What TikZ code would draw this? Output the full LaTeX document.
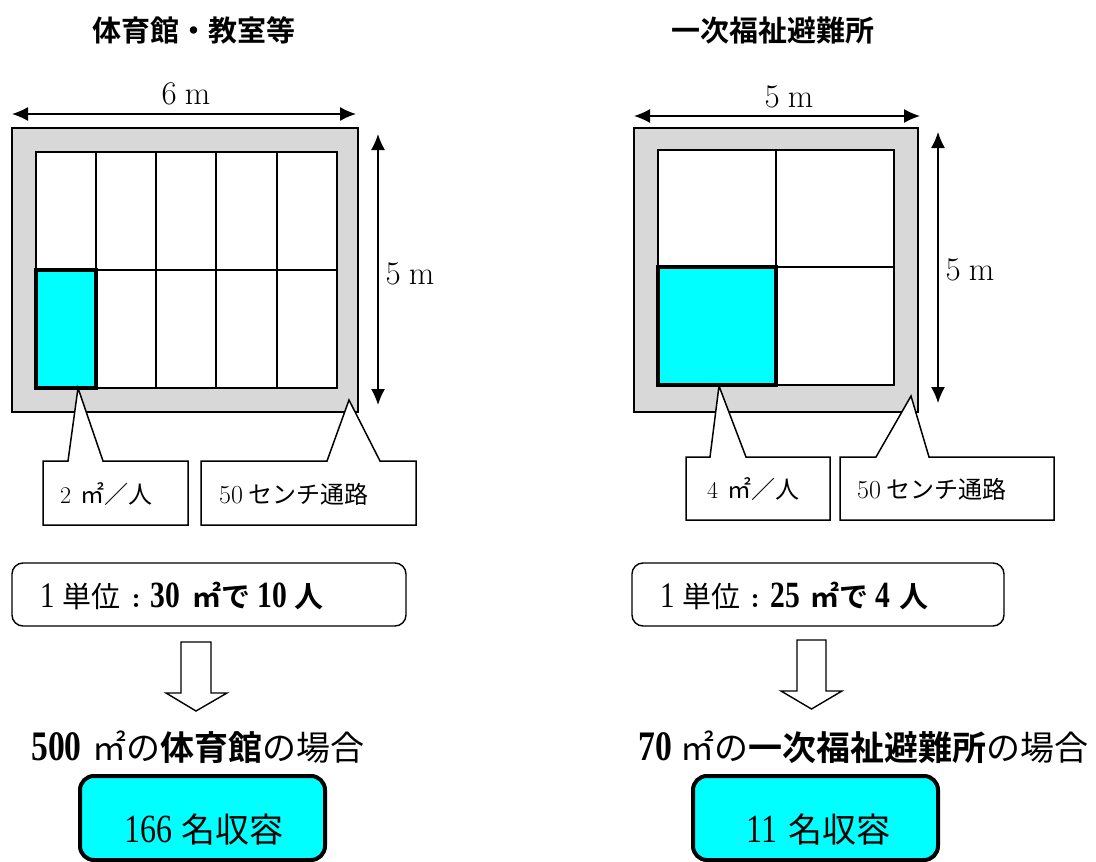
\documentclass[tikz,border=0pt]{standalone}
\usepackage{fontspec}
\usetikzlibrary{arrows.meta}
\newfontfamily\jpn{Noto Sans CJK JP}
\newfontfamily\jpb{Noto Sans CJK JP Bold}
\newfontfamily\ltall[FakeStretch=0.8]{Liberation Serif}
\newcommand{\Jr}[1]{{\jpn #1}}
\newcommand{\Jb}[1]{{\jpb #1}}
\newcommand{\fsz}[1]{\fontsize{#1}{#1}\selectfont}
\newcommand{\Bd}[2]{{\fsz{#1}\ltall\bfseries #2}}
\newcommand{\Tl}[2]{{\fsz{#1}\ltall #2}}
\definecolor{wallgray}{RGB}{216,216,216}
\definecolor{cyanfill}{RGB}{0,255,255}
\tikzset{
  x=1pt,y=-1pt,
  wall/.style={draw=black,line width=2pt,fill=wallgray},
  cellgrid/.style={draw=black,line width=1.4pt,fill=white},
  gridline/.style={draw=black,line width=1.4pt},
  hifill/.style={fill=cyanfill},
  hiedge/.style={draw=black,line width=3.4pt},
  dimarrow/.style={draw=black,line width=1.3pt,{Latex[length=16pt,width=14pt]}-{Latex[length=16pt,width=14pt]}},
  callout/.style={draw=black,line width=1.5pt,fill=white,line join=miter},
  unitbox/.style={draw=black,line width=1.4pt,fill=white,rounded corners=11pt},
  resbox/.style={draw=black,line width=4pt,fill=cyanfill,rounded corners=14pt},
  blockarrow/.style={draw=black,line width=1.4pt,fill=white},
  txt/.style={inner sep=0pt,anchor=base west},
  ctxt/.style={inner sep=0pt,anchor=base},
}
\begin{document}
\begin{tikzpicture}
\useasboundingbox (0,0) rectangle (1096,862);
% titles
\node[ctxt] (t1) at (194,41) {\fsz{29}\Jb{体育館・教室等}};
\node[ctxt] (t2) at (773,41) {\fsz{29}\Jb{一次福祉避難所}};
% left plan
\path[wall] (12,128) rectangle (358,412);
\path[cellgrid] (36,152) rectangle (337,388);
\foreach \xx in {96,156,216,277}{\draw[gridline] (\xx,152) -- (\xx,388);}
\draw[gridline] (36,270) -- (337,270);
\path[hifill] (36,270) rectangle (96,388);
\path[hiedge] (36,270) rectangle (96,388);
% right plan
\path[wall] (634,128) rectangle (918,412);
\path[cellgrid] (658,150) rectangle (894,385);
\draw[gridline] (776,150) -- (776,385);
\draw[gridline] (658,267) -- (894,267);
\path[hifill] (658,267) rectangle (776,385);
\path[hiedge] (658,267) rectangle (776,385);
% dimensions
\coordinate (d1a) at (12,114); \coordinate (d1b) at (356,114);
\coordinate (d2a) at (378,134); \coordinate (d2b) at (378,405);
\coordinate (d3a) at (634,116); \coordinate (d3b) at (920,116);
\coordinate (d4a) at (938,132); \coordinate (d4b) at (938,403);
\draw[dimarrow] (d1a) -- (d1b);
\draw[dimarrow] (d2a) -- (d2b);
\draw[dimarrow] (d3a) -- (d3b);
\draw[dimarrow] (d4a) -- (d4b);
\node[ctxt] (l1) at (186,104) {\fsz{33}6\hspace{8pt}m};
\node[ctxt] (l2) at (789,107) {\fsz{33}5\hspace{8pt}m};
\node[ctxt] (l3) at (410,284) {\fsz{33}5\hspace{8pt}m};
\node[ctxt] (l4) at (970,280) {\fsz{33}5\hspace{8pt}m};
% callouts
\path[callout] (43,461) -- (68,461) -- (78,388) -- (103,461) -- (188,461) -- (188,525) -- (43,525) -- cycle;
\path[callout] (201,461) -- (327,461) -- (349,400) -- (380,461) -- (416,461) -- (416,525) -- (201,525) -- cycle;
\path[callout] (686,457) -- (710,457) -- (719,386) -- (746,457) -- (830,457) -- (830,520) -- (686,520) -- cycle;
\path[callout] (840,457) -- (876,457) -- (911,396) -- (929,457) -- (1054,457) -- (1054,520) -- (840,520) -- cycle;
\node[txt] (c1) at (60,503) {\fsz{24}2\hspace{9pt}\Jr{㎡／人}};
\node[txt] (c2) at (219,503) {\fsz{26}50\hspace{5pt}\fsz{24}\Jr{センチ通路}};
\node[txt] (c3) at (707,498) {\fsz{24}4\hspace{9pt}\Jr{㎡／人}};
\node[txt] (c4) at (857,498) {\fsz{26}50\hspace{5pt}\fsz{24}\Jr{センチ通路}};
% unit boxes
\path[unitbox] (12,563) rectangle (406,626);
\path[unitbox] (632,563) rectangle (1004,626);
\node[txt] (u1) at (40,607) {\fsz{29}\Tl{36}{1}\hspace{8pt}\Jr{単位}\hspace{11pt}\textbf{:}\hspace{10pt}\Bd{37}{30}\hspace{12pt}\Jb{㎡で}\hspace{7pt}\Bd{37}{10}\hspace{8pt}\Jb{人}};
\node[txt] (u2) at (660,607) {\fsz{29}\Tl{36}{1}\hspace{8pt}\Jr{単位}\hspace{10pt}\textbf{:}\hspace{11pt}\Bd{37}{25}\hspace{10pt}\Jb{㎡で}\hspace{7pt}\Bd{37}{4}\hspace{9pt}\Jb{人}};
% block arrows
\path[blockarrow] (181,642) -- (211,642) -- (211,693) -- (227,693) -- (196,711) -- (166,693) -- (181,693) -- cycle;
\path[blockarrow] (797,640) -- (826,640) -- (826,691) -- (842,691) -- (811.5,709) -- (781,691) -- (797,691) -- cycle;
% case lines
\node[txt] (k1) at (31,760) {\fsz{34}\Bd{42}{500}\hspace{11pt}\Jr{㎡の}\Jb{体育館}\Jr{の場合}};
\node[txt] (k2) at (638,760) {\fsz{34}\Bd{42}{70}\hspace{9pt}\Jr{㎡の}\Jb{一次福祉避難所}\Jr{の場合}};
% results
\path[resbox] (80,776) rectangle (325,860);
\path[resbox] (693,776) rectangle (938,860);
\node[txt] (r1) at (124,842) {\Tl{40}{166}\hspace{9pt}\fsz{34}\Jr{名収容}};
\node[txt] (r2) at (746,842) {\Tl{40}{11}\hspace{11pt}\fsz{34}\Jr{名収容}};
\end{tikzpicture}
\end{document}
